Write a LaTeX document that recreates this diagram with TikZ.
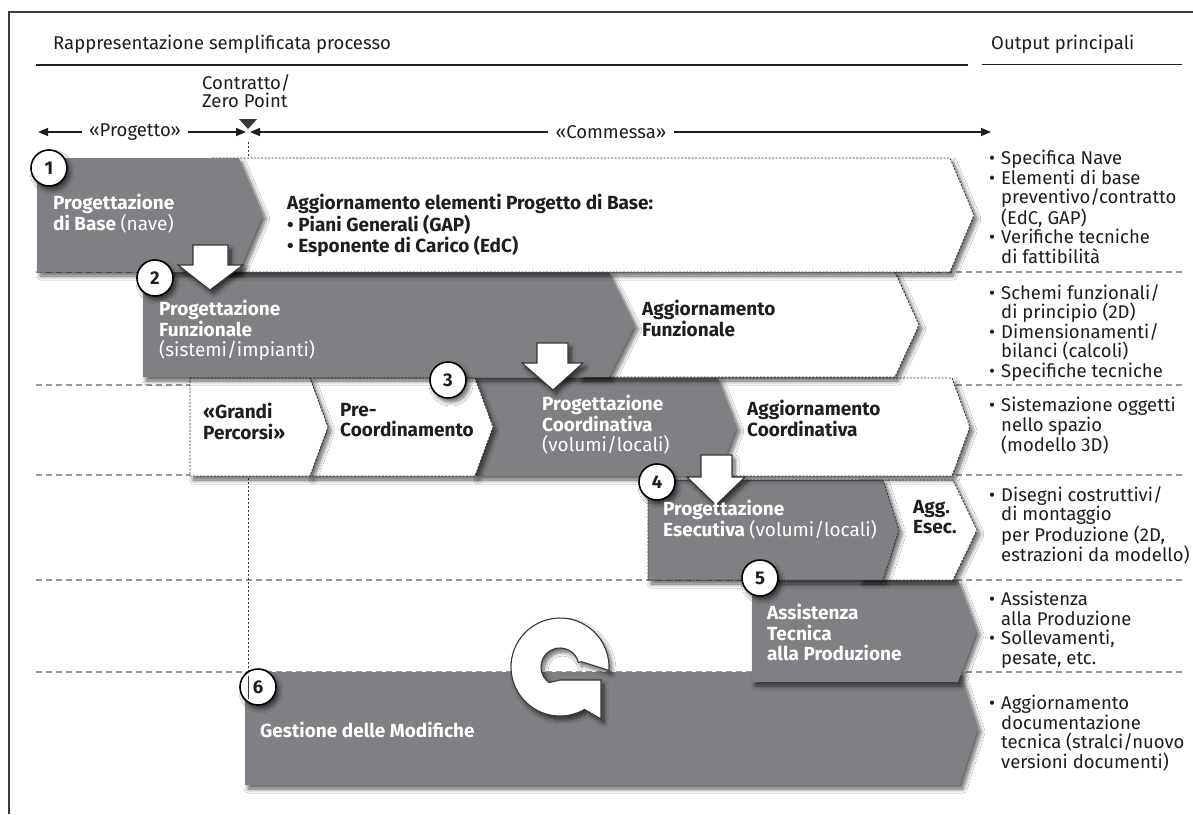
\documentclass[tikz,border=0pt]{standalone}
\usepackage{fontspec}
\setmainfont{Fira Sans}
\usetikzlibrary{arrows.meta,shadows.blur}
\definecolor{boxgray}{RGB}{127,128,132}
\definecolor{ink}{RGB}{30,30,32}
\definecolor{sepgray}{RGB}{150,150,150}
\definecolor{edgegray}{RGB}{55,55,58}
\definecolor{framegray}{RGB}{60,60,60}
\tikzset{
  dropshade/.style={blur shadow={shadow xshift=3pt,shadow yshift=-4pt,shadow blur radius=4pt,shadow blur steps=10,shadow opacity=62}},
  darkstage/.style={fill=boxgray,dropshade},
  darkedged/.style={fill=boxgray,draw=edgegray,line width=0.9pt,dash pattern=on 2pt off 1.5pt,dropshade},
  lightstage/.style={fill=white,draw=edgegray,line width=0.9pt,dash pattern=on 2pt off 1.5pt,dropshade},
  rowsep/.style={draw=sepgray,line width=1.2pt,dash pattern=on 6pt off 4pt},
  zeroline/.style={draw=edgegray,line width=1pt,dash pattern=on 2pt off 2pt},
  downarrow/.style={fill=white,draw=edgegray,line width=1.1pt,line join=miter,dropshade},
  stepnum/.style={circle,draw=black,line width=1.6pt,fill=white,minimum size=36pt,inner sep=0pt,
    font=\fontsize{18.5}{18.5}\selectfont\bfseries,text=ink,dropshade},
  boxtxt/.style={anchor=north west,inner sep=0pt,align=left,text=white,font=\fontsize{19}{20.5}\selectfont\bfseries},
  lighttxt/.style={anchor=north west,inner sep=0pt,align=left,text=ink,font=\fontsize{19}{20.5}\selectfont\bfseries},
  outtxt/.style={anchor=north west,inner sep=0pt,align=left,text=ink,font=\fontsize{18.5}{19.5}\selectfont},
  headtxt/.style={inner sep=0pt,text=ink,font=\fontsize{18.5}{18}\selectfont},
  timeline/.style={draw=ink,line width=1.3pt},
  tip/.style={-{Triangle[length=10pt,width=8pt]}},
}
\newcommand{\bul}{\llap{•\hspace{6pt}}}
\begin{document}
\begin{tikzpicture}[x=1pt,y=-1pt]
\useasboundingbox (0,0) rectangle (1193,814);
\fill[white] (0,0) rectangle (1193,814);

% frame
\draw[framegray,line width=1.2pt] (9,814) -- (9,12) -- (1193,12);

% header
\node[headtxt,anchor=west] (title) at (53,44) {Rappresentazione semplificata processo};
\draw[ink,line width=2pt] (36,65) -- (968,65);
\node[headtxt,anchor=west] (outtitle) at (991,44) {Output principali};
\draw[ink,line width=1pt] (982,64) -- (1182,64);
\node[headtxt,anchor=north west,align=left] (zero) at (202,74) {Contratto/\\Zero Point};

% timeline
\node[headtxt,inner xsep=7pt] (prog) at (135,132) {«Progetto»};
\node[headtxt,inner xsep=7pt] (comm) at (611,132) {«Commessa»};
\coordinate (tlstart) at (38,132);
\coordinate (zpleft) at (246,132);
\coordinate (zpright) at (250,132);
\coordinate (tlend) at (991,132);
\draw[timeline,tip] (prog.west) -- (tlstart);
\draw[timeline,tip] (prog.east) -- (zpleft);
\draw[timeline,tip] (comm.west) -- (zpright);
\draw[timeline,tip] (comm.east) -- (tlend);
\fill[edgegray] (239,119) -- (257,119) -- (248,129) -- cycle;

% row separators and zero point line
\foreach \yy in {272,385,475,580,672} \draw[rowsep] (36,\yy) -- (1182,\yy);
\draw[zeroline] (248,142) -- (248,690);

% row 6
\path[darkstage] (245,672) -- (960,672) -- (978,728) -- (960,785) -- (245,785) -- cycle;
\begin{scope}[shift={(560,667)}]
\path[downarrow] (4:49) arc[start angle=4,end angle=-300,radius=49] -- (41,52) -- (41,13) -- (0,13)
  -- (-235:19) arc[start angle=-235,end angle=-14,radius=19] -- (-14:22) -- cycle;
\end{scope}

% row 5
\path[darkstage] (752,580) -- (958,580) -- (977,631) -- (958,682) -- (752,682) -- cycle;

% row 4
\path[lightstage] (860,480) -- (953,480) -- (977,530) -- (953,580) -- (860,580) -- cycle;
\path[darkedged] (648,480) -- (883,480) -- (899,530) -- (883,580) -- (648,580) -- cycle;

% row 3
\path[lightstage] (700,378) -- (952,378) -- (970,427) -- (952,476) -- (700,476) -- cycle;
\path[darkstage] (475,378) -- (718,378) -- (737,427) -- (718,476) -- (475,476) -- (493,427) -- cycle;
\path[lightstage] (310,378) -- (475,378) -- (493,427) -- (475,476) -- (310,476) -- (328,427) -- cycle;
\path[lightstage] (190,378) -- (310,378) -- (328,427) -- (310,476) -- (190,476) -- cycle;

% row 2
\path[lightstage] (580,272) -- (895,272) -- (919,325) -- (895,377) -- (580,377) -- cycle;
\path[darkstage] (143,272) -- (609,272) -- (635,325) -- (609,377) -- (143,377) -- cycle;

% row 1
\path[lightstage] (212,158) -- (950,158) -- (974,215) -- (950,272) -- (212,272) -- cycle;
\path[darkstage] (37,158) -- (239,158) -- (263,215) -- (239,272) -- (37,272) -- cycle;

% hand-over arrows
\path[downarrow] (193,245) -- (228,245) -- (228,265) -- (243,265) -- (210,290) -- (178,265) -- (193,265) -- cycle;
\path[downarrow] (537,343) -- (568,343) -- (568,363) -- (583,363) -- (553,390) -- (522,363) -- (537,363) -- cycle;
\path[downarrow] (701,455) -- (732,455) -- (732,477) -- (745,477) -- (716,505) -- (687,477) -- (701,477) -- cycle;

% stage numbers
\node[stepnum] (n1) at (49,168) {1};
\node[stepnum] (n2) at (155,278) {2};
\node[stepnum] (n3) at (448,380) {3};
\node[stepnum] (n4) at (657,482) {4};
\node[stepnum] (n5) at (760,578) {5};
\node[stepnum] (n6) at (258,687) {6};
\draw[edgegray,line width=1pt] (248,676) -- (248,699);

% stage texts
\node[boxtxt] (t1) at (53,194) {Progettazione\\di Base {\mdseries(nave)}};
\node[lighttxt,font=\fontsize{19}{21.5}\selectfont\bfseries] (u1) at (287,194)
  {Aggiornamento elementi Progetto di Base:\\• Piani Generali (GAP)\\• Esponente di Carico (EdC)};
\node[boxtxt] (t2) at (159,300) {Progettazione\\Funzionale\\{\mdseries(sistemi/impianti)}};
\node[lighttxt] (u2) at (642,300) {Aggiornamento\\Funzionale};
\node[lighttxt] (g3) at (203,403) {«Grandi\\Percorsi»};
\node[lighttxt] (p3) at (340,403) {Pre-\\Coordinamento};
\node[boxtxt] (t3) at (542,395) {Progettazione\\Coordinativa\\{\mdseries(volumi/locali)}};
\node[lighttxt] (u3) at (747,400) {Aggiornamento\\Coordinativa};
\node[boxtxt] (t4) at (663,500) {Progettazione\\Esecutiva {\mdseries(volumi/locali)}};
\node[lighttxt] (u4) at (913,500) {Agg.\\Esec.};
\node[boxtxt] (t5) at (767,604) {Assistenza\\Tecnica\\alla Produzione};
\node[boxtxt] (t6) at (260,722) {Gestione delle Modifiche};

% main outputs
\node[outtxt] (o1) at (1001,150) {\bul Specifica Nave\\\bul Elementi di base\\preventivo/contratto\\(EdC, GAP)\\\bul Verifiche tecniche\\di fattibilità};
\node[outtxt] (o2) at (1001,284) {\bul Schemi funzionali/\\di principio (2D)\\\bul Dimensionamenti/\\bilanci (calcoli)\\\bul Specifiche tecniche};
\node[outtxt] (o3) at (1001,397) {\bul Sistemazione oggetti\\nello spazio\\(modello 3D)};
\node[outtxt] (o4) at (1001,486) {\bul Disegni costruttivi/\\di montaggio\\per Produzione (2D,\\estrazioni da modello)};
\node[outtxt] (o5) at (1001,591) {\bul Assistenza\\alla Produzione\\\bul Sollevamenti,\\pesate, etc.};
\node[outtxt] (o6) at (1001,695) {\bul Aggiornamento\\documentazione\\tecnica (stralci/nuovo\\versioni documenti)};
\end{tikzpicture}
\end{document}
